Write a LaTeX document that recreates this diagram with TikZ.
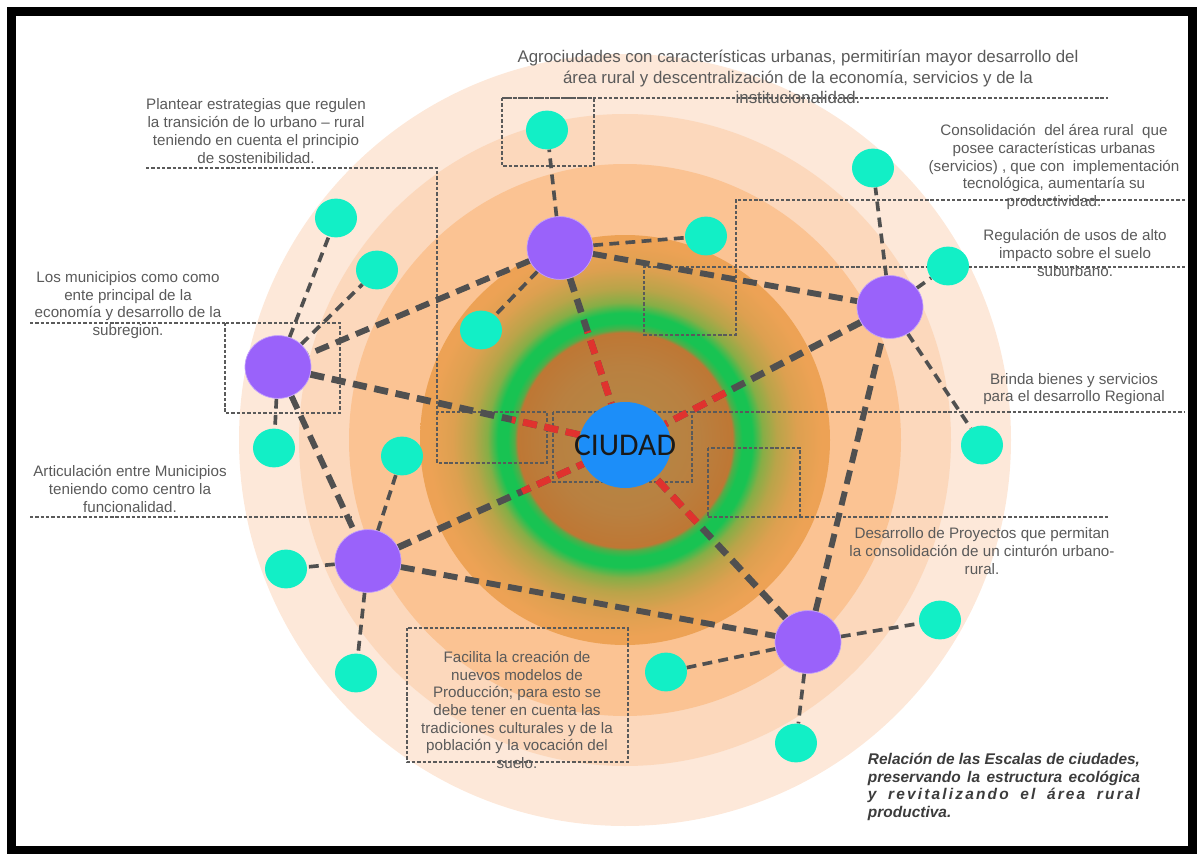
\documentclass[tikz,border=0pt]{standalone}
\usepackage{fontspec}
\setmainfont{Liberation Sans}
\newfontfamily\cityfont{Carlito}
\newfontfamily\widefont[LetterSpace=14]{Liberation Sans}
\usetikzlibrary{shapes.geometric}

\definecolor{ringA}{HTML}{FDE8D9}
\definecolor{ringB}{HTML}{FCD8BC}
\definecolor{ringC}{HTML}{FBC393}
\definecolor{beltO}{HTML}{EDA255}
\definecolor{beltT}{HTML}{DDA050}
\definecolor{beltY}{HTML}{B9A449}
\definecolor{beltL}{HTML}{86AE46}
\definecolor{beltG}{HTML}{18C352}
\definecolor{beltM}{HTML}{52AD48}
\definecolor{beltB}{HTML}{BE7734}
\definecolor{coreM}{HTML}{B98040}
\definecolor{coreB}{HTML}{B38A48}
\definecolor{hubC}{HTML}{9A62FA}
\definecolor{leafC}{HTML}{12EFC6}
\definecolor{cityC}{HTML}{1C8EF9}
\definecolor{lineC}{HTML}{505050}
\definecolor{linkR}{HTML}{E0322E}
\definecolor{noteC}{HTML}{5A5A5A}
\definecolor{capC}{HTML}{3C3C3C}

\pgfdeclareradialshading{greenbelt}{\pgfpoint{0bp}{0bp}}{%
  color(0bp)=(coreB); color(9bp)=(coreM); color(13.1bp)=(beltB);
  color(13.5bp)=(beltM); color(14.3bp)=(beltG); color(15.5bp)=(beltG);
  color(16.8bp)=(beltL); color(18.5bp)=(beltY); color(21bp)=(beltT);
  color(24bp)=(beltO); color(50bp)=(beltO)}

\pgfdeclarelayer{rings}
\pgfdeclarelayer{links}
\pgfsetlayers{rings,links,main}

\begin{document}
\begin{tikzpicture}[x=0.025cm, y=-0.025cm,
    hub/.style={ellipse, fill=hubC, draw=hubC!60!white, line width=0.5pt,
      minimum width=1.65cm, minimum height=1.57cm, inner sep=0pt},
    leaf/.style={ellipse, fill=leafC, minimum width=1.05cm, minimum height=0.97cm, inner sep=0pt},
    city/.style={ellipse, fill=cityC, minimum width=2.3cm, minimum height=2.15cm, inner sep=0pt},
    road/.style={draw=lineC, line width=4.2pt, dash pattern=on 10pt off 5.5pt},
    lane/.style={draw=lineC, line width=2.6pt, dash pattern=on 7pt off 4.5pt},
    guide/.style={draw=noteC, line width=0.75pt, dash pattern=on 2.4pt off 1.4pt},
    note/.style={text=noteC, align=center, inner sep=0pt, font=\fontsize{10.8}{12.6}\selectfont}]
  \useasboundingbox (0,0) rectangle (1199,854);
  \coordinate (core) at (625,440);

  \begin{pgfonlayer}{rings}
    \fill[ringA] (core) circle (386);
    \fill[ringB] (core) circle (326);
    \fill[ringC] (core) circle (276);
    \shade[shading=greenbelt] (core) circle (205);

    % guides
    \draw[guide] (502,98) -- (1108,98);
    \draw[guide] (502,98) rectangle (594,166);
    \draw[guide] (146,168) -- (437,168) -- (437,463) -- (547,463) -- (547,412) -- (437,412);
    \draw[guide] (1185,200) -- (736,200) -- (736,335) -- (644,335) -- (644,267) -- (1185,267);
    \draw[guide] (30,323) -- (225,323) rectangle (340,413);
    \draw[guide] (553,412) rectangle (692,482);
    \draw[guide] (692,412) -- (1185,412);
    \draw[guide] (30,517) -- (352,517);
    \draw[guide] (708,448) rectangle (800,517) -- (1108,517);
    \draw[guide] (407,628) rectangle (628,762);
  \end{pgfonlayer}

  % municipios
  \node[city, label={[font=\cityfont\fontsize{22.5}{22.5}\selectfont, text=black!90]center:CIUDAD}] (city) at (625,445) {};
  \node[hub] (hN) at (560,248) {};
  \node[hub] (hE) at (890,307) {};
  \node[hub] (hW) at (278,367) {};
  \node[hub] (hSW) at (368,561) {};
  \node[hub] (hSE) at (808,642) {};

  % veredas
  \foreach \n/\x/\y in {v1/547/130, v2/706/236, v3/481/330, v4/336/218, v5/377/270,
      v6/274/448, v7/402/456, v8/286/569, v9/356/673, v10/873/168, v11/948/266,
      v12/982/445, v13/940/620, v14/666/672, v15/796/743}
    \node[leaf] (\n) at (\x,\y) {};

  \begin{pgfonlayer}{links}
    \foreach \a/\b in {hN/v1, hN/v2, hN/v3, hW/v4, hW/v5, hW/v6, hSW/v7, hSW/v8, hSW/v9,
        hE/v10, hE/v11, hE/v12, hSE/v13, hSE/v14, hSE/v15}
      \draw[lane] (\a) -- (\b);
    \foreach \a/\b in {hN/hE, hN/hW, hW/hSW, hSW/hSE, hSE/hE}
      \draw[road] (\a) -- (\b);
    % red inside the belt
    \foreach \a in {hN, hE, hW, hSW, hSE}{
      \draw[road, line width=4.8pt] (\a) -- (city);
      \begin{scope}
        \clip (core) circle (115);
        \draw[road, line width=4.8pt, draw=linkR] (\a) -- (city);
      \end{scope}
    }
  \end{pgfonlayer}

  % notes
  \node[note, font=\fontsize{12}{14.5}\selectfont] (agro) at (798,77)
    {Agrociudades con características urbanas, permitirían mayor desarrollo del\\
     área rural y descentralización de la economía, servicios y de la\\
     institucionalidad.};
  \node[note] (plan) at (256,131)
    {Plantear estrategias que regulen\\la transición de lo urbano – rural\\
     teniendo en cuenta el principio\\de sostenibilidad.};
  \node[note] (conso) at (1054,167)
    {Consolidación~ del área rural~ que\\posee características urbanas\\
     (servicios) , que con~ implementación\\tecnológica, aumentaría su\\productividad.};
  \node[note] (regu) at (1075,253)
    {Regulación de usos de alto\\impacto sobre el suelo\\suburbano.};
  \node[note] (muni) at (128,305)
    {Los municipios como como\\ente principal de la\\economía y desarrollo de la\\subregion.};
  \node[note] (brinda) at (1074,389)
    {Brinda bienes y servicios\\para el desarrollo Regional};
  \node[note] (arti) at (130,489)
    {Articulación entre Municipios\\teniendo como centro la\\funcionalidad.};
  \node[note] (desa) at (982,551)
    {Desarrollo de Proyectos que permitan\\la consolidación de un cinturón urbano-\\rural.};
  \node[note] (faci) at (517,710)
    {Facilita la creación de\\nuevos modelos de\\Producción; para esto se\\debe tener en cuenta las\\
     tradiciones culturales y de la\\población y la vocación del\\suelo.};
  \node[text=capC, align=left, inner sep=0pt, font=\bfseries\itshape\fontsize{11}{12.6}\selectfont] (caption) at (1004,787)
    {\makebox[6.8cm][s]{Relación de las Escalas de ciudades,}\\
     \makebox[6.8cm][s]{preservando la estructura ecológica}\\
     \makebox[6.8cm][s]{\widefont\bfseries\itshape y revitalizando el área rural}\\
     \makebox[6.8cm][l]{productiva.}};

  % frame
  \draw[line width=6.4pt] (11.5,11.5) rectangle (1192,850.5);
\end{tikzpicture}
\end{document}
